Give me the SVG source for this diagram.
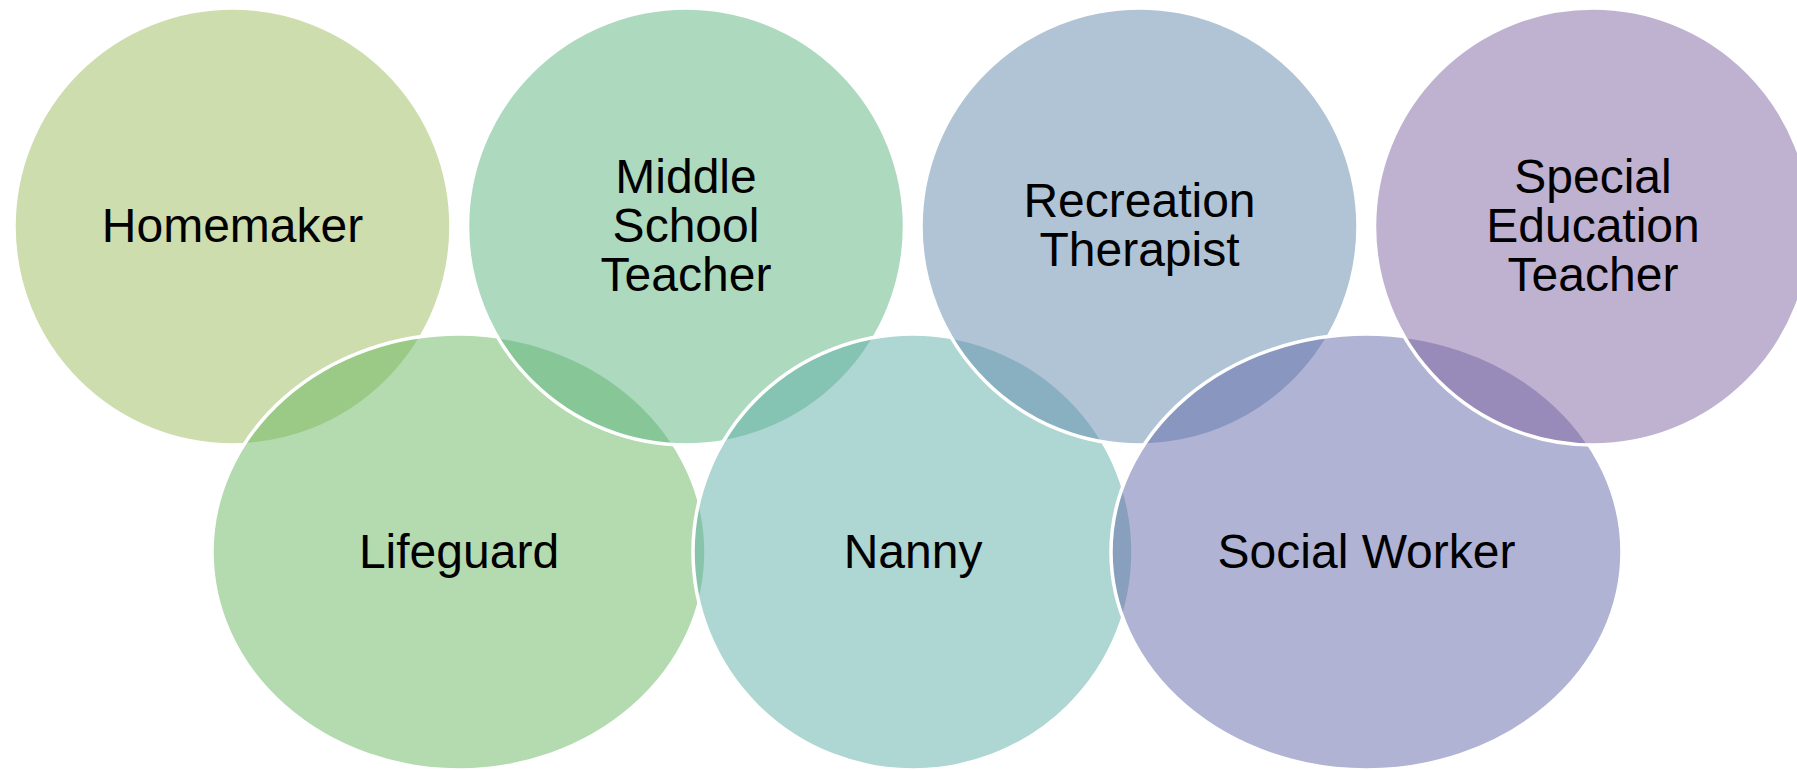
<svg xmlns="http://www.w3.org/2000/svg" width="1797" height="770" viewBox="0 0 1797 770">
<style>
.s{stroke:#ffffff;stroke-width:3.5;fill-opacity:0.5}
.t{font-family:"Liberation Sans",Arial,sans-serif;font-size:48px;fill:#000000;text-anchor:middle}
</style>
<rect width="1797" height="770" fill="#ffffff"/>
<g id="homemaker">
<circle class="s" cx="232.5" cy="226.5" r="218.5" fill="#9DBB5D"/>
<text class="t" x="232.5" y="242">Homemaker</text>
</g>
<g id="lifeguard">
<ellipse class="s" cx="459" cy="552" rx="247" ry="218" fill="#67B75F"/>
<text class="t" x="459" y="568">Lifeguard</text>
</g>
<g id="middle-school-teacher">
<circle class="s" cx="686" cy="226.5" r="218.5" fill="#5BB37F"/>
<text class="t" x="686" y="192.5">Middle</text>
<text class="t" x="686" y="241.7">School</text>
<text class="t" x="686" y="291">Teacher</text>
</g>
<g id="nanny">
<ellipse class="s" cx="913" cy="552" rx="220" ry="218" fill="#5DADA5"/>
<text class="t" x="913" y="568">Nanny</text>
</g>
<g id="recreation-therapist">
<circle class="s" cx="1139.5" cy="226.5" r="218.5" fill="#6189AD"/>
<text class="t" x="1139.5" y="217">Recreation</text>
<text class="t" x="1139.5" y="266">Therapist</text>
</g>
<g id="social-worker">
<ellipse class="s" cx="1366.5" cy="552" rx="255.5" ry="218" fill="#6167A7"/>
<text class="t" x="1366.5" y="568">Social Worker</text>
</g>
<g id="special-education-teacher">
<circle class="s" cx="1593" cy="226.5" r="218.5" fill="#7F63A1"/>
<text class="t" x="1593" y="192.5">Special</text>
<text class="t" x="1593" y="241.7">Education</text>
<text class="t" x="1593" y="291">Teacher</text>
</g>
<g id="connectors"></g>
</svg>
